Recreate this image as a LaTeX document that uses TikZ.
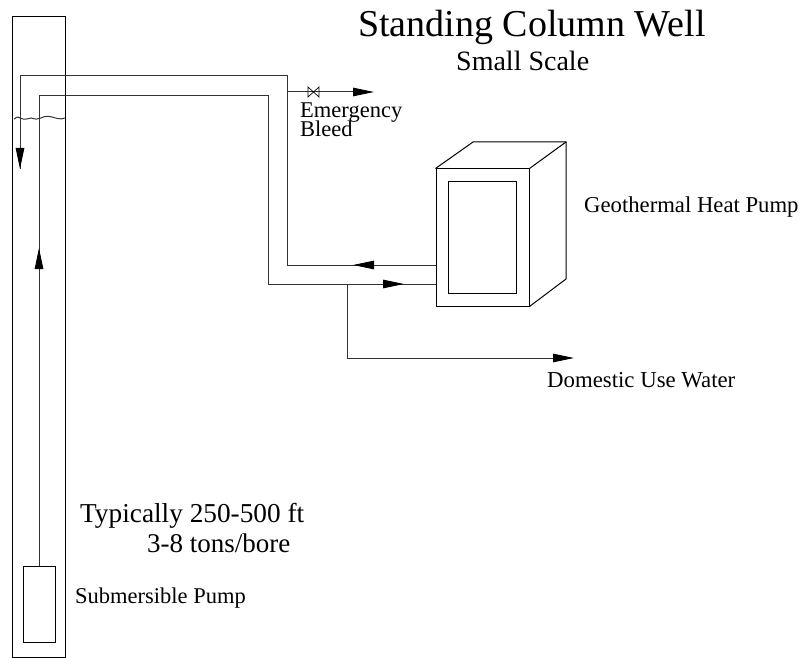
\documentclass[tikz,border=0pt]{standalone}
\usepackage{fontspec}
\setmainfont{Liberation Serif}
\usetikzlibrary{arrows.meta, positioning}
\begin{document}
\begin{tikzpicture}[
			x=1pt, y=-1pt,
			pipe/.style={line width=1pt, draw=black!80},
			flow/.style={-{Triangle[length=21pt, width=8.5pt, color=black]}, line width=1pt, draw=black!80},
			outline/.style={draw, line width=1pt},
			label/.style={inner sep=0pt, anchor=base west}
		]
		\useasboundingbox (0,0) rectangle (804,658);
		% Titles
		\node[font=\fontsize{38}{38}\selectfont, label] (title) at (358,37) {Standing Column Well};
		\node[font=\fontsize{28}{28}\selectfont, label] (subtitle) at (456,71) {Small Scale};
		
		% Well and pump
		\node[outline, minimum width=53pt, minimum height=640pt, inner sep=0pt] (well) at (38.5,337) {};
		\node[outline, minimum width=32pt, minimum height=76pt, inner sep=0pt] (pump) at (39,604) {};
		\draw[pipe] (14,119) .. controls (16,118) and (17,116) .. (20,118) .. controls (24,120) and (27,119) .. (31,118) .. controls (35,119) and (38,120) .. (41,118) .. controls (45,116) and (48,116) .. (52,117) .. controls (56,118) and (60,120) .. (65,118);
		
		% Heat pump
		\node[outline, minimum width=93pt, minimum height=137pt, inner sep=0pt] (front) at (482.5,237.5) {};
		\node[outline, minimum width=68pt, minimum height=111pt, inner sep=0pt] (panel) at (482,237.5) {};
		\coordinate (back-nw) at (473,142);
		\coordinate (back-ne) at (566,142);
		\coordinate (back-se) at (566,279);
		\draw[outline] (front.north west) -- (back-nw) -- (back-ne) -- (back-se) -- (front.south east);
		\draw[outline] (front.north east) -- (back-ne);
		
		% Pipes
		\coordinate (tap) at (347,284);
		\coordinate (supply) at (436,284);
		\coordinate (return) at (436,265);
		\coordinate (bleed) at (287,92);
		\draw[pipe] (pump.north) -- (39,96) -- (268,96) -- (268,284) -- (supply);
		\draw[pipe] (return) -- (287,265) -- (287,76) -- (20,76) -- (20,169);
		\draw[flow] (39,280) -- (39,248);
		\draw[flow] (20,130) -- (20,169);
		\draw[flow] (380,265) -- (353,265);
		\draw[flow] (375,284) -- (404,284);
		\draw[flow] (bleed) -- (374,92);
		\draw[flow] (tap) -- (347,358) -- (574,358);
		
		% Valve
		\draw[line width=0.7pt] (308,87) -- (319,97) -- (319,87) -- (308,97) -- cycle;
		
		% Labels
		\node[font=\fontsize{22.5}{22.5}\selectfont, label] (bleed-a) at (300,118) {Emergency};
		\node[font=\fontsize{22.5}{22.5}\selectfont, label] (bleed-b) at (300,137) {Bleed};
		\node[font=\fontsize{22.7}{22.7}\selectfont, label] (hp) at (584,213) {Geothermal Heat Pump};
		\node[font=\fontsize{22.8}{22.8}\selectfont, label] (dom) at (547,387) {Domestic Use Water};
		\node[font=\fontsize{27.3}{27.3}\selectfont, label] (depth) at (80,522) {Typically 250-500 ft};
		\node[font=\fontsize{27}{27}\selectfont, label] (tons) at (147,552) {3-8 tons/bore};
		\node[font=\fontsize{22.5}{22.5}\selectfont, label] (sub) at (75,603) {Submersible Pump};
		\end{tikzpicture}
\end{document}
